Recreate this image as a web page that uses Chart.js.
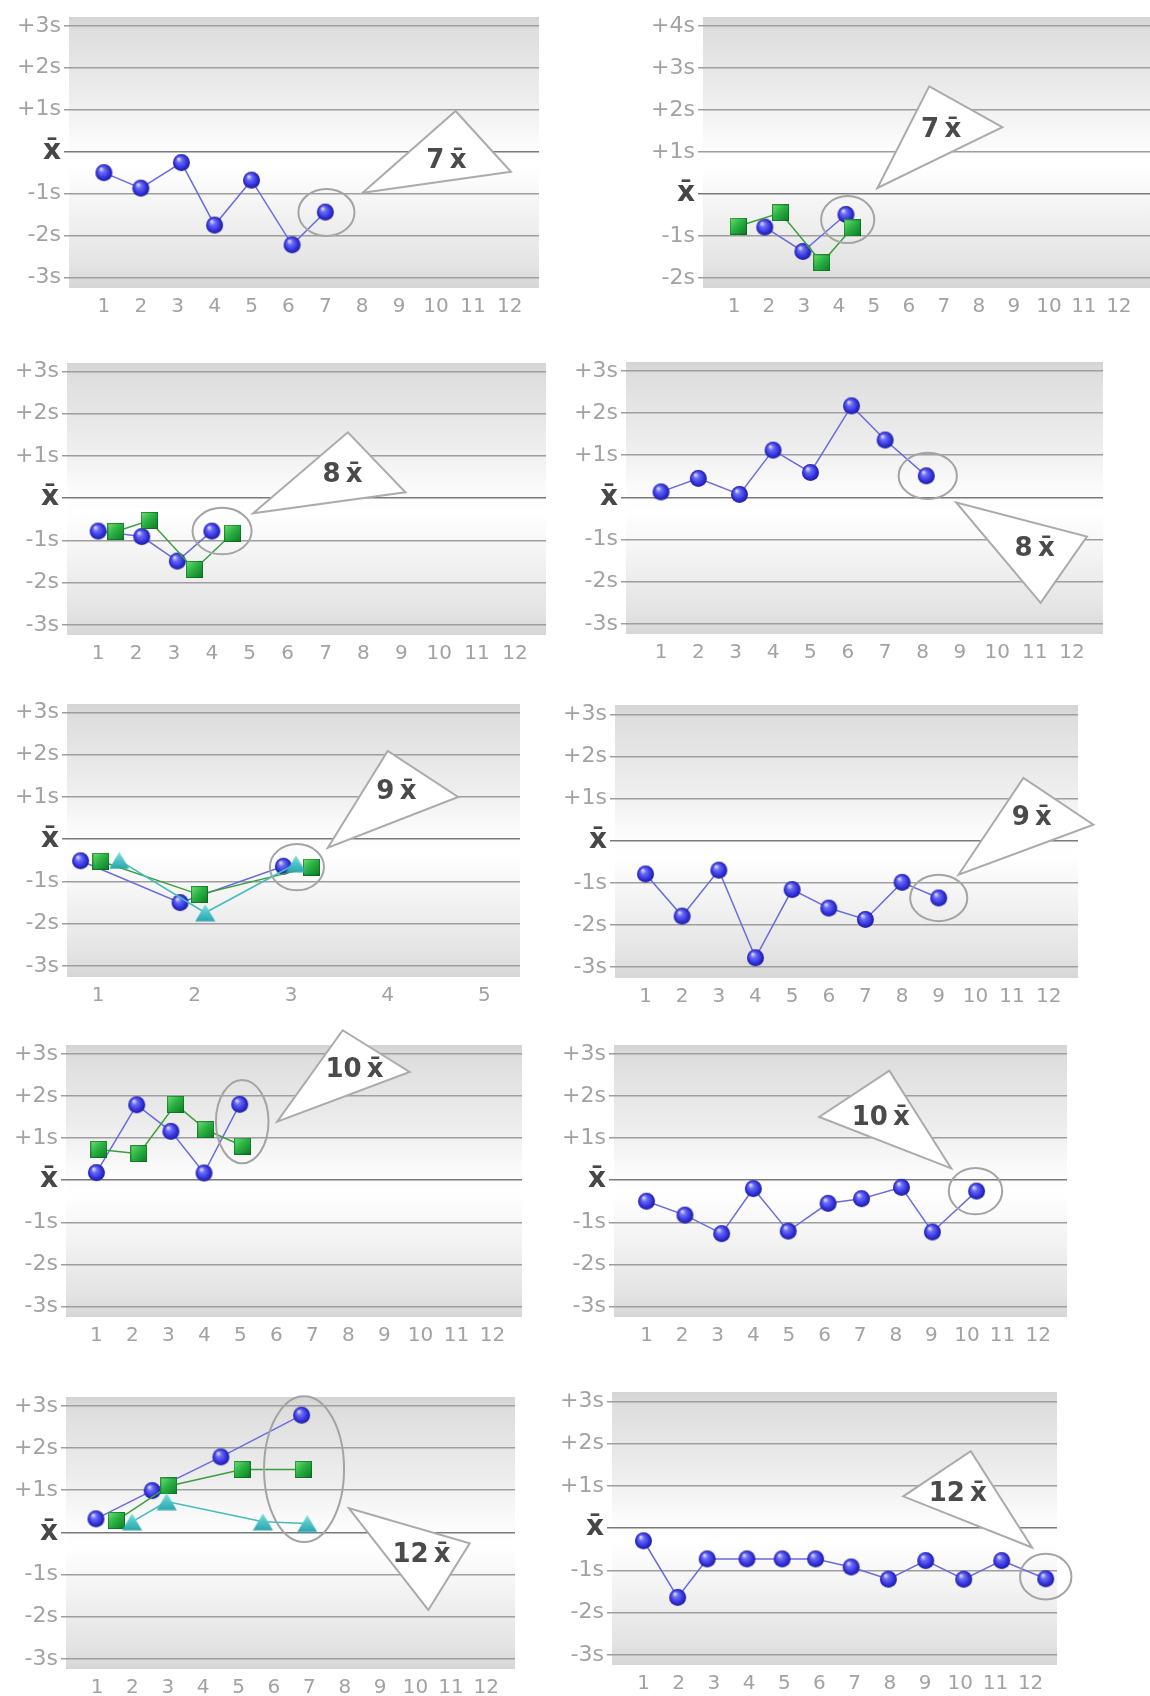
<!DOCTYPE html>
<html><head><meta charset="utf-8">
<script src="https://cdn.jsdelivr.net/npm/chart.js@4.4.1/dist/chart.umd.min.js"></script>
<style>
html,body{margin:0;padding:0;background:#fff;}
body{width:1150px;height:1696px;overflow:hidden;position:relative;}
.p{position:absolute;}
</style></head><body>
<script>
// ================= DATA =================
const runs12 = [1,2,3,4,5,6,7,8,9,10,11,12];
const runs5 = [1,2,3,4,5];
const sdLevels = [-3,-2,-1,0,1,2,3];
const sdLabels = ['-3s','-2s','-1s','x\u0304','+1s','+2s','+3s'];
const sdLevelsHigh = [-2,-1,0,1,2,3,4];
const sdLabelsHigh = ['-2s','-1s','x\u0304','+1s','+2s','+3s','+4s'];

// Panel A: 7x̄, one control
const a_blueX = [1,2,3.1,4,5,6.1,7];
const a_blueY = [-0.5,-0.87,-0.26,-1.75,-0.68,-2.22,-1.44];
// Panel B: 7x̄, two controls
const b_blueX = [1.88,2.97,4.2];
const b_blueY = [-0.79,-1.37,-0.49];
const b_greenX = [1.12,2.33,3.51,4.38];
const b_greenY = [-0.77,-0.45,-1.64,-0.81];
// Panel C: 8x̄, two controls
const c_blueX = [1,2.15,3.09,4.0];
const c_blueY = [-0.78,-0.91,-1.49,-0.78];
const c_greenX = [1.47,2.35,3.54,4.55];
const c_greenY = [-0.79,-0.53,-1.69,-0.83];
// Panel D: 8x̄, one control
const d_blueX = [1,2,3.1,4,5,6.1,7,8.1];
const d_blueY = [0.13,0.45,0.07,1.12,0.59,2.17,1.36,0.51];
// Panel E: 9x̄, three controls
const e_blueX = [0.82,1.85,2.92];
const e_blueY = [-0.51,-1.5,-0.64];
const e_greenX = [1.03,2.05,3.21];
const e_greenY = [-0.52,-1.31,-0.66];
const e_tealX = [1.22,2.11,3.05];
const e_tealY = [-0.5,-1.74,-0.58];
// Panel F: 9x̄, one control
const f_blueX = [1,2,3,4,5,6,7,8,9];
const f_blueY = [-0.79,-1.79,-0.7,-2.78,-1.16,-1.6,-1.87,-0.99,-1.36];
// Panel G: 10x̄, two controls
const g_blueX = [1,2.12,3.07,3.99,4.98];
const g_blueY = [0.18,1.79,1.16,0.17,1.8];
const g_greenX = [1.07,2.18,3.2,4.04,5.06];
const g_greenY = [0.73,0.63,1.8,1.2,0.81];
// Panel H: 10x̄, one control
const h_blueX = [1,2.08,3.11,4,4.98,6.1,7.04,8.16,9.03,10.27];
const h_blueY = [-0.5,-0.83,-1.27,-0.2,-1.21,-0.55,-0.44,-0.17,-1.23,-0.26];
// Panel I: 12x̄, three controls
const i_blueX = [0.97,2.56,4.5,6.78];
const i_blueY = [0.32,0.99,1.79,2.78];
const i_greenX = [1.55,3.03,5.1,6.83];
const i_greenY = [0.28,1.1,1.49,1.49];
const i_tealX = [1.99,2.97,5.69,6.94];
const i_tealY = [0.25,0.73,0.25,0.21];
// Panel J: 12x̄, one control
const j_blueX = [1,1.97,2.81,3.94,4.94,5.89,6.9,7.96,9.02,10.1,11.18,12.43];
const j_blueY = [-0.3,-1.64,-0.73,-0.73,-0.73,-0.73,-0.92,-1.21,-0.77,-1.21,-0.77,-1.2];

// ================= MARKERS =================
function mkSphere(r){const s=Math.ceil(2*r+2);const c=document.createElement('canvas');c.width=c.height=s;const g=c.getContext('2d');const cx=s/2,cy=s/2;const gr=g.createRadialGradient(cx-r*0.35,cy-r*0.45,r*0.05,cx,cy,r);gr.addColorStop(0,'#dcdcff');gr.addColorStop(0.3,'#6b6bf6');gr.addColorStop(0.75,'#3030da');gr.addColorStop(1,'#1c1c9c');g.fillStyle=gr;g.beginPath();g.arc(cx,cy,r,0,Math.PI*2);g.fill();return c;}
function mkSquare(a){const c=document.createElement('canvas');c.width=c.height=a;const g=c.getContext('2d');const gr=g.createLinearGradient(0,0,a,a);gr.addColorStop(0,'#74e274');gr.addColorStop(0.45,'#2bb244');gr.addColorStop(1,'#0b7a24');g.fillStyle=gr;g.fillRect(0,0,a,a);g.strokeStyle='rgba(0,90,20,0.55)';g.lineWidth=1;g.strokeRect(0.5,0.5,a-1,a-1);return c;}
function mkTri(w,h){const c=document.createElement('canvas');c.width=w;c.height=h;const g=c.getContext('2d');const gr=g.createLinearGradient(0,0,0,h);gr.addColorStop(0,'#8ee0e0');gr.addColorStop(0.5,'#4cc4c6');gr.addColorStop(1,'#2aa2ac');g.fillStyle=gr;g.beginPath();g.moveTo(w/2,0.5);g.lineTo(w-0.5,h-0.5);g.lineTo(0.5,h-0.5);g.closePath();g.fill();return c;}
const STY = {
  blue:{line:'#6a6ae2', img:mkSphere(8.5), order:3},
  green:{line:'#3a9f3a', img:mkSquare(17), order:2},
  teal:{line:'#44bcbc', img:mkTri(21,18), order:1}
};

// ================= PLUGINS =================
const bgPlugin = {id:'bg', beforeDraw(chart){const a=chart.chartArea;const ctx=chart.ctx;ctx.save();const gr=ctx.createLinearGradient(0,a.top,0,a.bottom);
  gr.addColorStop(0,'#d4d4d4');gr.addColorStop(0.05,'#dedede');gr.addColorStop(0.3,'#ededed');gr.addColorStop(0.45,'#fafafa');gr.addColorStop(0.55,'#ffffff');gr.addColorStop(0.7,'#f4f4f4');gr.addColorStop(0.92,'#e3e3e3');gr.addColorStop(1,'#d6d6d6');
  ctx.fillStyle=gr;ctx.fillRect(a.left,a.top,a.right-a.left,a.bottom-a.top);ctx.restore();}};
function calloutPlugin(note){
  return {id:'callout',
    beforeDatasetsDraw(chart){const {ctx,scales:{x,y}}=chart;ctx.save();ctx.beginPath();
      note.tri.forEach((p,i)=>{const px=x.getPixelForValue(p[0]),py=y.getPixelForValue(p[1]);if(i)ctx.lineTo(px,py);else ctx.moveTo(px,py);});
      ctx.closePath();ctx.fillStyle='#ffffff';ctx.fill();ctx.lineWidth=2;ctx.strokeStyle='#ababab';ctx.lineJoin='miter';ctx.stroke();
      ctx.font='bold 26px "DejaVu Sans"';ctx.fillStyle='#4a4a4a';ctx.textAlign='center';ctx.textBaseline='middle';
      ctx.fillText(note.label,x.getPixelForValue(note.at[0]),y.getPixelForValue(note.at[1]));ctx.restore();},
    afterDatasetsDraw(chart){const {ctx,scales:{x,y}}=chart;const r=note.ring;const cx=x.getPixelForValue(r[0]),cy=y.getPixelForValue(r[1]);
      const rx=Math.abs(x.getPixelForValue(r[0]+r[2])-cx),ry=Math.abs(y.getPixelForValue(r[1]+r[3])-cy);
      ctx.save();ctx.beginPath();ctx.ellipse(cx,cy,rx,ry,0,0,Math.PI*2);ctx.lineWidth=2;ctx.strokeStyle='#a4a4a4';ctx.stroke();ctx.restore();}
  };
}

// ================= PANEL BUILDER =================
function panel(p){
  const [L,T,R,B]=p.box; const yW=68,xH=40,pT=40,pR=60;
  const div=document.createElement('div');div.className='p';
  div.style.left=(L-yW)+'px';div.style.top=(T-pT)+'px';
  div.style.width=(R-L+yW+pR)+'px';div.style.height=(B-T+pT+xH)+'px';
  const cv=document.createElement('canvas');div.appendChild(cv);document.body.appendChild(div);
  const datasets=p.sets.map(s=>({
    data:s.xs.map((v,i)=>({x:v,y:s.ys[i]})), showLine:true, borderColor:STY[s.kind].line, borderWidth:1.5,
    pointStyle:STY[s.kind].img, pointRadius:9, pointHoverRadius:9, order:STY[s.kind].order, clip:false
  }));
  new Chart(cv,{type:'scatter',data:{datasets},
    options:{responsive:true,maintainAspectRatio:false,animation:false,events:[],
      layout:{padding:{top:pT,right:pR,left:0,bottom:0}},
      plugins:{legend:{display:false},tooltip:{enabled:false}},
      scales:{
        x:{type:'linear',min:p.xr[0],max:p.xr[1],
          afterBuildTicks:s=>{s.ticks=p.xt.map(v=>({value:v}));},
          afterFit:s=>{s.height=xH;},
          grid:{display:false,drawTicks:false},border:{display:false},
          ticks:{color:'#a2a2a2',font:{family:'DejaVu Sans',size:20},padding:7,maxRotation:0,autoSkip:false,callback:v=>String(v)}},
        y:{type:'linear',min:p.yr[0],max:p.yr[1],
          afterBuildTicks:s=>{s.ticks=p.yt.map(v=>({value:v}));},
          afterFit:s=>{s.width=yW;},
          border:{display:false},
          grid:{color:c=>c.tick&&c.tick.value===0?'#7a7a7a':'#9e9e9e',lineWidth:1.5,tickLength:5,drawTicks:true},
          ticks:{padding:3,autoSkip:false,
            color:c=>c.tick&&c.tick.value===0?'#474747':'#a2a2a2',
            font:c=>c.tick&&c.tick.value===0?{family:'DejaVu Sans',size:28,weight:'bold'}:{family:'DejaVu Sans',size:22},
            callback:(v)=>p.yl[p.yt.indexOf(v)]}}
      }},
    plugins:[bgPlugin,calloutPlugin(p.note)]});
}

// ================= PANELS =================
panel({box:[69,17,539,288],xr:[0.054,12.79],yr:[-3.25,3.21],xt:runs12,yt:sdLevels,yl:sdLabels,
  sets:[{xs:a_blueX,ys:a_blueY,kind:'blue'}],
  note:{tri:[[8.01,-0.98],[10.53,0.97],[12.03,-0.48]],label:'7\u2009x\u0304',at:[10.28,-0.22],ring:[7.03,-1.45,0.76,0.56]}});
panel({box:[703,17,1150,288],xr:[0.114,12.89],yr:[-2.24,4.21],xt:runs12,yt:sdLevelsHigh,yl:sdLabelsHigh,
  sets:[{xs:b_blueX,ys:b_blueY,kind:'blue'},{xs:b_greenX,ys:b_greenY,kind:'green'}],
  note:{tri:[[5.1,0.14],[6.58,2.56],[8.67,1.59]],label:'7\u2009x\u0304',at:[6.92,1.51],ring:[4.25,-0.61,0.76,0.56]}});
panel({box:[67,363,546,635],xr:[0.177,12.82],yr:[-3.24,3.2],xt:runs12,yt:sdLevels,yl:sdLabels,
  sets:[{xs:c_blueX,ys:c_blueY,kind:'blue'},{xs:c_greenX,ys:c_greenY,kind:'green'}],
  note:{tri:[[5.09,-0.36],[7.59,1.56],[9.11,0.14]],label:'8\u2009x\u0304',at:[7.45,0.54],ring:[4.27,-0.78,0.78,0.55]}});
panel({box:[626,362,1103,634],xr:[0.063,12.83],yr:[-3.24,3.21],xt:runs12,yt:sdLevels,yl:sdLabels,
  sets:[{xs:d_blueX,ys:d_blueY,kind:'blue'}],
  note:{tri:[[8.9,-0.12],[12.4,-0.93],[11.16,-2.5]],label:'8\u2009x\u0304',at:[11.0,-1.23],ring:[8.14,0.51,0.78,0.55]}});
panel({box:[67,704,520,977],xr:[0.679,5.37],yr:[-3.26,3.2],xt:runs5,yt:sdLevels,yl:sdLabels,
  sets:[{xs:e_blueX,ys:e_blueY,kind:'blue'},{xs:e_greenX,ys:e_greenY,kind:'green'},{xs:e_tealX,ys:e_tealY,kind:'teal'}],
  note:{tri:[[3.38,-0.2],[4.0,2.09],[4.73,1.0]],label:'9\u2009x\u0304',at:[4.09,1.1],ring:[3.06,-0.66,0.28,0.55]}});
panel({box:[615,705,1078,978],xr:[0.167,12.8],yr:[-3.26,3.22],xt:runs12,yt:sdLevels,yl:sdLabels,
  sets:[{xs:f_blueX,ys:f_blueY,kind:'blue'}],
  note:{tri:[[9.54,-0.81],[11.31,1.49],[13.22,0.38]],label:'9\u2009x\u0304',at:[11.54,0.54],ring:[9,-1.36,0.78,0.55]}});
panel({box:[66,1045,522,1317],xr:[0.156,12.82],yr:[-3.25,3.21],xt:runs12,yt:sdLevels,yl:sdLabels,
  sets:[{xs:g_blueX,ys:g_blueY,kind:'blue'},{xs:g_greenX,ys:g_greenY,kind:'green'}],
  note:{tri:[[6.02,1.39],[7.84,3.56],[9.7,2.57]],label:'10\u2009x\u0304',at:[8.17,2.61],ring:[5.05,1.39,0.73,0.99]}});
panel({box:[614,1045,1067,1317],xr:[0.087,12.81],yr:[-3.25,3.21],xt:runs12,yt:sdLevels,yl:sdLabels,
  sets:[{xs:h_blueX,ys:h_blueY,kind:'blue'}],
  note:{tri:[[9.56,0.28],[5.85,1.5],[7.82,2.6]],label:'10\u2009x\u0304',at:[7.58,1.48],ring:[10.24,-0.26,0.75,0.55]}});
panel({box:[66,1397,515,1669],xr:[0.124,12.81],yr:[-3.24,3.21],xt:runs12,yt:sdLevels,yl:sdLabels,
  sets:[{xs:i_blueX,ys:i_blueY,kind:'blue'},{xs:i_greenX,ys:i_greenY,kind:'green'},{xs:i_tealX,ys:i_tealY,kind:'teal'}],
  note:{tri:[[8.12,0.57],[11.53,-0.26],[10.36,-1.84]],label:'12\u2009x\u0304',at:[10.17,-0.55],ring:[6.85,1.5,1.13,1.73]}});
panel({box:[612,1392,1057,1665],xr:[0.105,12.75],yr:[-3.24,3.22],xt:runs12,yt:sdLevels,yl:sdLabels,
  sets:[{xs:j_blueX,ys:j_blueY,kind:'blue'}],
  note:{tri:[[12.04,-0.46],[8.38,0.75],[10.3,1.82]],label:'12\u2009x\u0304',at:[9.93,0.79],ring:[12.43,-1.15,0.73,0.54]}});
</script>
</body></html>
